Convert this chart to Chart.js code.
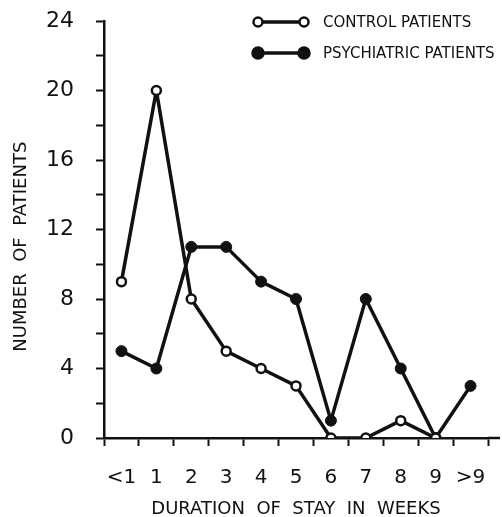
<!DOCTYPE html>
<html>
<head>
<meta charset="utf-8">
<script src="https://cdn.jsdelivr.net/npm/chart.js@4.4.1/dist/chart.umd.min.js"></script>
<style>
  body { margin: 0; background: #fff; }
</style>
</head>
<body>
<canvas id="stayChart" width="502" height="517"></canvas>
<script>
// categories (weeks) and counts
const weeks = ["<1", "1", "2", "3", "4", "5", "6", "7", "8", "9", ">9"];
const controlPatients = [9, 20, 8, 5, 4, 3, 0, 0, 1, 0, null];
const psychiatricPatients = [5, 4, 11, 11, 9, 8, 1, 8, 4, 0, 3];
const yLabelled = [0, 4, 8, 12, 16, 20, 24];
const legendLabels = ["CONTROL PATIENTS", "PSYCHIATRIC PATIENTS"];

const ink = "#111";
const fontFamily = "'DejaVu Sans', sans-serif";

// legend drawn by hand: a short line with a marker at each end
const legendPlugin = {
  id: "lineLegend",
  afterDraw(chart) {
    const ctx = chart.ctx;
    const area = chart.chartArea;
    ctx.save();
    // x axis line runs a little past the last tick
    ctx.strokeStyle = ink;
    ctx.lineWidth = 2.5;
    ctx.beginPath();
    ctx.moveTo(area.right, area.bottom);
    ctx.lineTo(area.right + 12, area.bottom);
    ctx.stroke();

    ctx.font = "15px " + fontFamily;
    ctx.textBaseline = "middle";
    ctx.fillStyle = ink;
    legendLabels.forEach((label, i) => {
      const y = 22 + i * 31;
      const filled = i === 1;
      ctx.lineWidth = 3.5;
      ctx.beginPath();
      ctx.moveTo(258, y);
      ctx.lineTo(304, y);
      ctx.stroke();
      [258, 304].forEach((x) => {
        ctx.beginPath();
        ctx.arc(x, y, filled ? 5.5 : 4.5, 0, Math.PI * 2);
        ctx.fillStyle = filled ? ink : "#fff";
        ctx.fill();
        ctx.lineWidth = 2.5;
        ctx.stroke();
      });
      ctx.fillStyle = ink;
      ctx.fillText(label, 323, y + 1);
    });
    ctx.restore();
  },
};

new Chart(document.getElementById("stayChart"), {
  type: "line",
  data: {
    labels: weeks,
    datasets: [
      {
        label: legendLabels[0],
        data: controlPatients,
        borderColor: ink,
        borderWidth: 3.5,
        borderJoinStyle: "round",
        pointRadius: 4.5,
        pointBorderWidth: 2.5,
        pointBackgroundColor: "#fff",
        pointBorderColor: ink,
        tension: 0,
      },
      {
        label: legendLabels[1],
        data: psychiatricPatients,
        borderColor: ink,
        borderWidth: 3.5,
        borderJoinStyle: "round",
        pointRadius: 5.5,
        pointBorderWidth: 1,
        pointBackgroundColor: ink,
        pointBorderColor: ink,
        tension: 0,
      },
    ],
  },
  options: {
    responsive: false,
    animation: false,
    layout: { padding: { top: 21, right: 14, left: 0, bottom: 0 } },
    plugins: {
      legend: { display: false },
      tooltip: { enabled: false },
    },
    scales: {
      x: {
        type: "category",
        offset: true,
        grid: {
          offset: true,
          drawOnChartArea: false,
          drawTicks: true,
          tickLength: 8,
          tickWidth: 2,
          tickColor: ink,
        },
        border: { display: true, color: ink, width: 2.5 },
        ticks: {
          color: ink,
          padding: 20,
          maxRotation: 0,
          autoSkip: false,
          font: { family: fontFamily, size: 20 },
        },
        title: {
          display: true,
          text: "DURATION  OF  STAY  IN  WEEKS",
          color: ink,
          padding: { top: 0, bottom: -3 },
          font: { family: fontFamily, size: 18 },
        },
        afterFit(scale) {
          scale.height = 79;
          // label overhang should not push the plot area in
          scale.paddingLeft = 0;
          scale.paddingRight = 0;
        },
      },
      y: {
        min: 0,
        max: 24,
        grid: {
          drawOnChartArea: false,
          drawTicks: true,
          tickLength: 8,
          tickWidth: 2,
          tickColor: ink,
        },
        border: { display: true, color: ink, width: 2.5 },
        ticks: {
          stepSize: 2,
          color: ink,
          padding: 22,
          font: { family: fontFamily, size: 22 },
          callback: (value) => (yLabelled.includes(value) ? String(value) : ""),
        },
        title: {
          display: true,
          text: "NUMBER  OF  PATIENTS      ",
          color: ink,
          padding: { top: 11, bottom: 0 },
          font: { family: fontFamily, size: 18 },
        },
        afterFit(scale) {
          scale.width = 104;
          scale.paddingTop = 0;
          scale.paddingBottom = 0;
        },
      },
    },
  },
  plugins: [legendPlugin],
});
</script>
</body>
</html>
